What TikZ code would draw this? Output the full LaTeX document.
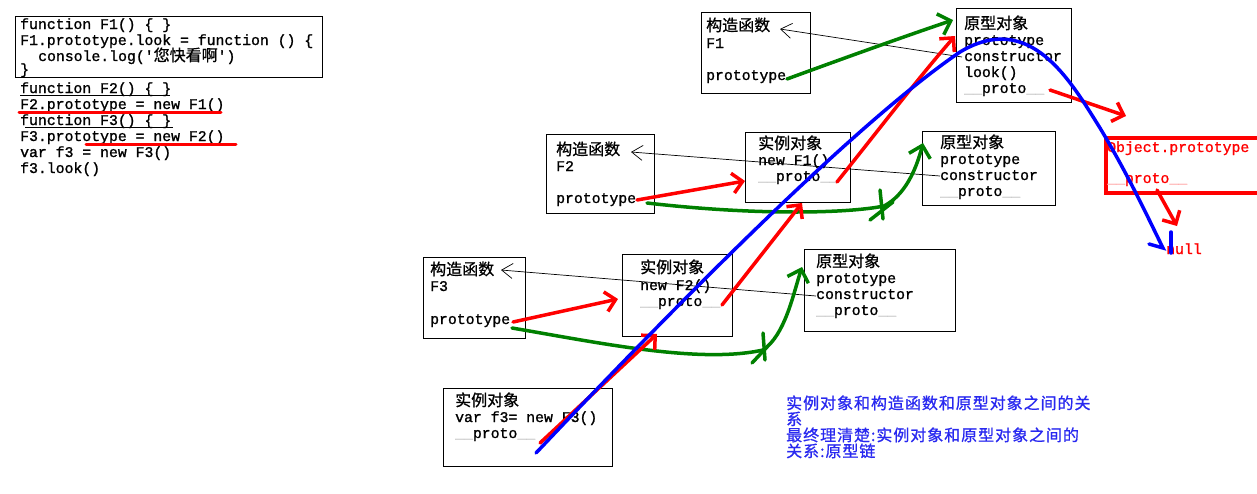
\documentclass[tikz,border=0pt]{standalone}
\usepackage{fontspec}
\usetikzlibrary{arrows.meta}
\setmonofont[FakeBold=1.2]{Liberation Mono}
\newfontfamily\zhfont[FakeBold=0.8]{Noto Sans CJK SC}
\definecolor{pred}{RGB}{255,0,0}
\definecolor{pgreen}{RGB}{0,128,0}
\definecolor{pblue}{RGB}{0,0,255}
\definecolor{tblue}{RGB}{40,40,240}
\newcommand\zh[1]{{\fontsize{16}{16}\zhfont #1}}
\newcommand\zhb[1]{{\fontsize{16}{16}\zhfont\addfontfeature{LetterSpace=6}#1}}
\newcommand\uu{\textcolor{gray!45}{\_\_}}
\newcommand\ur{\textcolor{pred!35}{\_\_}}
\newcommand\mybox[5]{\node[box,minimum width={#4-#2},minimum height={#5-#3}] (#1) at ({(#2+#4)/2},{(#3+#5)/2}) {};}
\frenchspacing
\begin{document}
\begin{tikzpicture}[x=1pt,y=-1pt,
  t/.style={anchor=base west,inner sep=0pt,font=\ttfamily\fontsize{14.8}{16}\selectfont},
  box/.style={draw=black,line width=1pt,inner sep=0pt,outer sep=0pt},
  redarr/.style={draw=pred,line width=3.5pt,line cap=round,-{Straight Barb[length=10pt,width=20pt]}},
  greenarr/.style={draw=pgreen,line width=3.5pt,line cap=round,-{Straight Barb[length=11pt,width=22pt]}},
  greenmark/.style={draw=pgreen,line width=3.5pt,line cap=round},
  bluecurve/.style={draw=pblue,line width=3.5pt,line cap=round},
  thinarr/.style={draw=black,line width=0.7pt,-{Straight Barb[length=11pt,width=15pt]}},
  uline/.style={draw=black,line width=1pt},
  redline/.style={draw=pred,line width=3pt,line cap=round}]
\fill[white] (0,0) rectangle (1257,493);
\useasboundingbox (0,0) rectangle (1257,493);

% ---------- code listing ----------
\mybox{code}{15}{16}{322}{77}
\node[t] (l1) at (20,29) {function F1() \{ \}};
\node[t] (l2) at (20,45) {F1.prototype.look = function () \{};
\node[t] (l3) at (38,61) {console.log('\zh{您快看啊}')};
\node[t] (l4) at (20,74) {\}};
\node[t] (l5) at (20,93) {function F2() \{ \}};
\node[t] (l6) at (20,109) {F2.prototype = new F1()};
\node[t] (l7) at (20,125) {function F3() \{ \}};
\node[t] (l8) at (20,141) {F3.prototype = new F2()};
\node[t] (l9) at (20,157) {var f3 = new F3()};
\node[t] (l10) at (20,173) {f3.look()};
\coordinate (u1a) at (20,95); \coordinate (u1b) at (170,95);
\coordinate (u2a) at (25,127); \coordinate (u2b) at (173,127);
\coordinate (u3a) at (19,112); \coordinate (u3b) at (221,112);
\coordinate (u4a) at (86,144); \coordinate (u4b) at (236,144);
\draw[uline] (u1a) -- (u1b);
\draw[uline] (u2a) -- (u2b);
\draw[redline] (u3a) -- (u3b);
\draw[redline] (u4a) -- (u4b);

% ---------- F1 ----------
\mybox{c1}{701}{12}{810}{93}
\node[t] (c1a) at (706,31) {\zh{构造函数}};
\node[t] (c1b) at (706,48) {F1};
\node[t] (c1c) at (706,80) {prototype};
\mybox{p1}{956}{8}{1071}{102}
\node[t] (p1a) at (964,29) {\zh{原型对象}};
\node[t] (p1b) at (964,45) {prototype};
\node[t] (p1c) at (964,61) {constructor};
\node[t] (p1d) at (964,77) {look()};
\node[t] (p1e) at (964,93) {\uu proto\uu};

% ---------- F2 ----------
\mybox{c2}{546}{134}{654}{213}
\node[t] (c2a) at (556,155) {\zh{构造函数}};
\node[t] (c2b) at (556,171) {F2};
\node[t] (c2c) at (556,203) {prototype};
\mybox{i1}{745}{132}{850}{202}
\node[t] (i1a) at (758,149) {\zh{实例对象}};
\node[t] (i1b) at (758,165) {new F1()};
\node[t] (i1c) at (758,181) {\uu proto\uu};
\mybox{p2}{922}{131}{1055}{205}
\node[t] (p2a) at (940,148) {\zh{原型对象}};
\node[t] (p2b) at (940,164) {prototype};
\node[t] (p2c) at (940,180) {constructor};
\node[t] (p2d) at (940,196) {\uu proto\uu};

% ---------- F3 ----------
\mybox{c3}{423}{257}{525}{338}
\node[t] (c3a) at (430,275) {\zh{构造函数}};
\node[t] (c3b) at (430,291) {F3};
\node[t] (c3c) at (430,324) {prototype};
\mybox{i2}{622}{254}{732}{336}
\node[t] (i2a) at (640,273) {\zh{实例对象}};
\node[t] (i2b) at (640,290) {new F2()};
\node[t] (i2c) at (640,306) {\uu proto\uu};
\mybox{p3}{804}{249}{955}{331}
\node[t] (p3a) at (816,267) {\zh{原型对象}};
\node[t] (p3b) at (816,283) {prototype};
\node[t] (p3c) at (816,299) {constructor};
\node[t] (p3d) at (816,315) {\uu proto\uu};

% ---------- f3 ----------
\mybox{i3}{443}{388}{612}{466}
\node[t] (i3a) at (455,406) {\zh{实例对象}};
\node[t] (i3b) at (455,422) {var f3= new F3()};
\node[t] (i3c) at (455,438) {\uu proto\uu};

% ---------- blue note ----------
\node[t,text=tblue] (n1) at (786,409) {\zhb{实例对象和构造函数和原型对象之间的关}};
\node[t,text=tblue] (n2) at (786,425) {\zhb{系}};
\node[t,text=tblue] (n3) at (786,441) {\zhb{最终理清楚:实例对象和原型对象之间的}};
\node[t,text=tblue] (n4) at (786,457) {\zhb{关系:原型链}};

% ---------- Object.prototype ----------
\node[draw=pred,line width=3.5pt,minimum width=160pt,minimum height=55pt,inner sep=0pt] (op) at (1186,165.5) {};
\node[t,text=pred] (opa) at (1107,152) {Object.prototype};
\node[t,text=pred] (opb) at (1107,183) {\ur proto\ur};
\node[t,text=pred] (nul) at (1166,254) {null};

% ---------- constructor back-links ----------
\coordinate (k1s) at (962,57); \coordinate (k1e) at (780,29);
\coordinate (k2s) at (940,176); \coordinate (k2e) at (631,152);
\coordinate (k3s) at (816,296); \coordinate (k3e) at (501,270);
\draw[thinarr] (k1s) -- (k1e);
\draw[thinarr] (k2s) -- (k2e);
\draw[thinarr] (k3s) -- (k3e);

% ---------- green: prototype links ----------
\coordinate (g1s) at (787,79); \coordinate (g1e) at (953,20);
\draw[greenarr] (g1s) .. controls (850,56) and (900,38) .. (g1e);
\coordinate (g2s) at (647,203); \coordinate (g2m) at (884,206); \coordinate (g2e) at (923,143);
\draw[greenarr] (g2s) .. controls (760,216) and (850,213) .. (g2m) .. controls (905,195) and (916,170) .. (g2e);
\draw[greenmark] (880,190) -- (883,219);
\draw[greenmark] (870,220) -- (893,202);
\coordinate (g3s) at (512,328); \coordinate (g3m) at (763,350); \coordinate (g3e) at (802,267);
\draw[greenarr] (g3s) .. controls (600,343) and (700,364) .. (g3m) .. controls (785,335) and (793,295) .. (g3e);
\draw[greenmark] (763,333) -- (765,360);
\draw[greenmark] (752,363) -- (767,347);

% ---------- red: __proto__ links ----------
\coordinate (r1s) at (513,322); \coordinate (r1e) at (618,299);
\coordinate (r2s) at (637,200); \coordinate (r2e) at (745,181);
\coordinate (r3s) at (540,443); \coordinate (r3e) at (657,334);
\coordinate (r4s) at (722,305); \coordinate (r4e) at (802,203);
\coordinate (r5s) at (837,182); \coordinate (r5e) at (955,36);
\coordinate (r6s) at (1050,90); \coordinate (r6e) at (1126,116);
\coordinate (r7s) at (1157,190); \coordinate (r7e) at (1177,226);
\draw[redarr] (r1s) -- (r1e);
\draw[redarr] (r2s) -- (r2e);
\draw[redarr] (r3s) -- (r3e);
\draw[redarr] (r4s) -- (r4e);
\draw[redarr] (r5s) .. controls (880,128) and (920,76) .. (r5e);
\draw[redarr] (r6s) -- (r6e);
\draw[redarr] (r7s) -- (r7e);

% ---------- blue: prototype chain ----------
\coordinate (b1) at (536,453); \coordinate (b2) at (960,52);
\coordinate (b3) at (1100,128); \coordinate (b4) at (1163,248);
\coordinate (b5) at (1149,244);
\draw[bluecurve] (b1) .. controls (690,290) and (860,120) .. (b2)
  .. controls (1030,10) and (1070,80) .. (b3)
  .. controls (1130,178) and (1150,222) .. (b4) -- (b5);
\coordinate (b6) at (1171,232); \coordinate (b7) at (1171,253);
\draw[bluecurve] (b6) -- (b7);
\end{tikzpicture}
\end{document}
